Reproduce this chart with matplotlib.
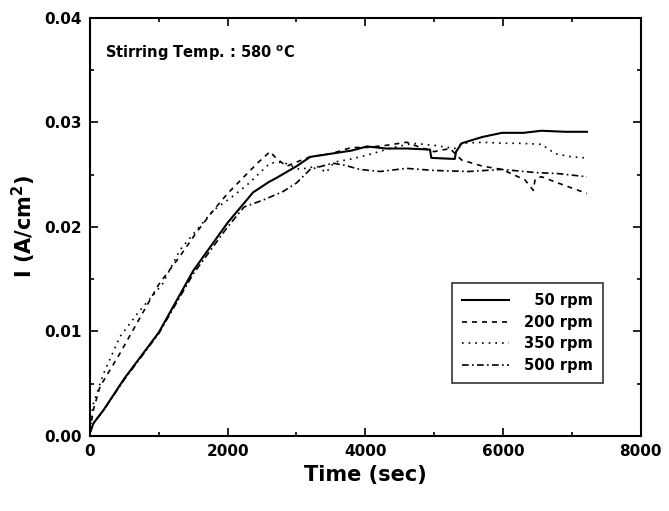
import matplotlib
matplotlib.use("Agg")
import matplotlib.pyplot as plt
from matplotlib.ticker import MultipleLocator, FormatStrFormatter

plt.rcParams['font.family'] = ['DejaVu Sans']
plt.rcParams['font.weight'] = 'bold'
plt.rcParams['mathtext.default'] = 'bf'

t50 = [0, 50, 200, 500, 1000, 1500, 2000, 2370, 2600, 2713, 3000, 3200, 3500, 3800, 4025, 4300, 4600, 4940, 4960, 5300, 5320, 5400, 5700, 5985, 6300, 6560, 6900, 7220]
i50 = [0.0003, 0.0012, 0.0025, 0.0055, 0.0099, 0.0158, 0.0204, 0.0233, 0.0243, 0.0247, 0.0258, 0.0267, 0.0270, 0.0273, 0.0277, 0.0275, 0.0275, 0.0274, 0.0266, 0.0265, 0.0272, 0.0280, 0.0286, 0.0290, 0.0290, 0.0292, 0.0291, 0.0291]

t200 = [0, 50, 145, 436, 700, 1000, 1308, 1550, 1795, 2000, 2238, 2450, 2616, 2700, 2857, 3000, 3198, 3500, 3800, 4025, 4300, 4600, 4800, 5000, 5230, 5400, 5710, 5985, 6320, 6440, 6470, 6560, 6800, 7220]
i200 = [0.0005, 0.0025, 0.0047, 0.0079, 0.0110, 0.0145, 0.0172, 0.0195, 0.0216, 0.0232, 0.0248, 0.0262, 0.0272, 0.0266, 0.0258, 0.0262, 0.0267, 0.0270, 0.0276, 0.0276, 0.0278, 0.0281, 0.0276, 0.0272, 0.0275, 0.0264, 0.0258, 0.0255, 0.0245, 0.0235, 0.0246, 0.0248, 0.0242, 0.0232]

t350 = [0, 45, 200, 436, 700, 1050, 1308, 1550, 1795, 2050, 2280, 2616, 2800, 3043, 3300, 3430, 3550, 3800, 4100, 4400, 4700, 5000, 5300, 5400, 5700, 6000, 6230, 6560, 6760, 7000, 7200]
i350 = [0.0005, 0.0030, 0.0060, 0.0095, 0.0118, 0.0145, 0.0178, 0.0197, 0.0216, 0.0228, 0.0240, 0.0261, 0.0262, 0.0255, 0.0258, 0.0252, 0.0262, 0.0265, 0.0270, 0.0276, 0.0280, 0.0278, 0.0275, 0.0280, 0.0281, 0.0280, 0.0280, 0.0279, 0.0270, 0.0267, 0.0266]

t500 = [0, 50, 200, 500, 1000, 1500, 2000, 2238, 2528, 2810, 3000, 3200, 3530, 3700, 3920, 4215, 4600, 5000, 5500, 5985, 6470, 6800, 7220]
i500 = [0.0003, 0.0012, 0.0025, 0.0054, 0.0098, 0.0155, 0.0200, 0.0219, 0.0226, 0.0234, 0.0242, 0.0255, 0.0261, 0.0259, 0.0255, 0.0253, 0.0256, 0.0254, 0.0253, 0.0255, 0.0252, 0.0251, 0.0248]

labels = ['  50 rpm', '200 rpm', '350 rpm', '500 rpm']

fig = plt.figure(figsize=(6.69, 5.11), dpi=100)
ax = fig.add_axes([0.1345, 0.147, 0.823, 0.818])

ax.plot(t50, i50, color='black', lw=1.5, ls='-', label=labels[0])
ax.plot(t200, i200, color='black', lw=1.2, ls=(0, (3, 3)), label=labels[1])
ax.plot(t350, i350, color='black', lw=1.2, ls=(0, (1, 3)), label=labels[2])
ax.plot(t500, i500, color='black', lw=1.2, ls=(0, (4, 2, 1, 2)), label=labels[3])

ax.set_xlim(0, 8000)
ax.set_ylim(0, 0.04)
ax.xaxis.set_major_locator(MultipleLocator(2000))
ax.xaxis.set_minor_locator(MultipleLocator(1000))
ax.yaxis.set_major_locator(MultipleLocator(0.01))
ax.yaxis.set_minor_locator(MultipleLocator(0.005))
ax.yaxis.set_major_formatter(FormatStrFormatter('%.2f'))
ax.tick_params(which='both', direction='in', top=True, right=True, labelsize=11, width=1.2)
ax.tick_params(which='major', length=6, pad=6)
ax.tick_params(which='minor', length=3)
for lab in ax.get_xticklabels() + ax.get_yticklabels():
    lab.set_fontweight('bold')
for s in ax.spines.values():
    s.set_linewidth(1.5)

ax.set_xlabel('Time (sec)', fontsize=15, fontweight='bold', labelpad=4)
ax.set_ylabel('I (A/cm$^2$)', fontsize=15, fontweight='bold', labelpad=4)

ax.text(220, 0.0366, 'Stirring Temp. : 580 $^\\mathrm{o}$C', fontsize=10.5, fontweight='bold', va='center')

leg = ax.legend(loc='upper left', bbox_to_anchor=(0.658, 0.366), frameon=True, fancybox=False,
                edgecolor='black', handlelength=3.2, labelspacing=0.45,
                borderpad=0.7, handletextpad=1.0, borderaxespad=0,
                prop={'weight': 'bold', 'size': 10.5})
leg.get_frame().set_linewidth(1.2)

fig.savefig('out.png', dpi=100)
